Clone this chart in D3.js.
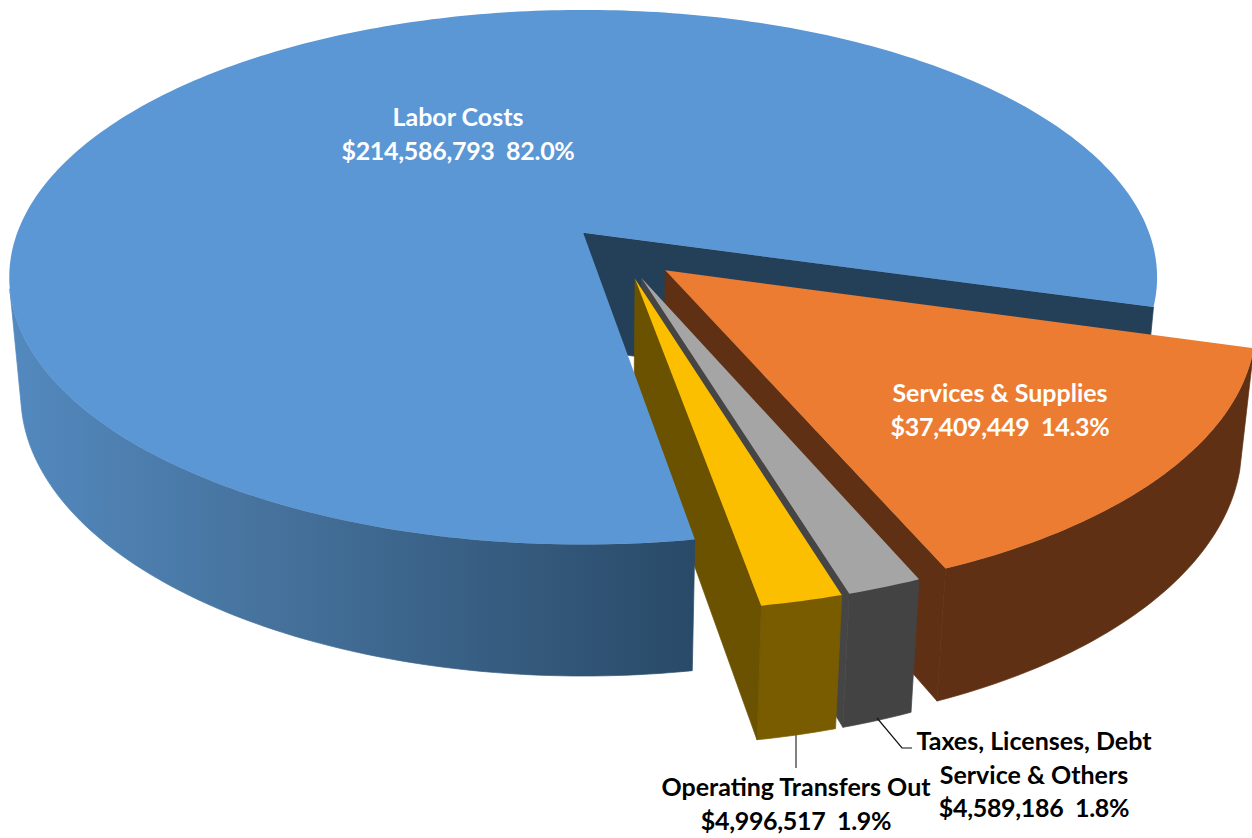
<!DOCTYPE html>
<html>
<head>
<meta charset="utf-8">
<script src="https://cdn.jsdelivr.net/npm/d3@7"></script>
<style>
  html, body { margin: 0; background: #fff; }
  svg { display: block; }
  text { font-family: Lato, "Open Sans", sans-serif; font-weight: 700; font-size: 25px; text-anchor: middle; }
</style>
</head>
<body>
<svg id="chart" width="1252" height="838"></svg>
<script>
let categories = ["Labor Costs", "Services & Supplies", "Taxes, Licenses, Debt Service & Others", "Operating Transfers Out"];
let values = [214586793, 37409449, 4589186, 4996517];
let topColors = ["#5b97d5", "#eb7c32", "#a5a5a5", "#fcbf00"];
let cutColors = ["#243f58", "#5f3013", "#454545", "#6b5200"];
let wallColors = ["url(#blueWall)", "#5f3013", "#434343", "#7a5c00"];
// label rows, one list per slice, the last row gets value + percent
let labelRows = [["Labor Costs"], ["Services & Supplies"], ["Taxes, Licenses, Debt", "Service & Others"], ["Operating Transfers Out"]];

const FIRST_SLICE = 170.5; // degrees, clockwise from 12 o'clock
const LEFT_EDGE = 258;     // where the blue wall leaves the silhouette
const EXPLODE = 0.1;       // share of the radius
const PIE_CENTRE = [0.067, 0.074];

// perspective camera, fitted on the picture
const cx = 583, cy = 233, fx = 566, gy = 260, hz = 118.5, ky = 0.166, mz = 0.02;
function project(x, y, z) {
  let w = 1 - ky * y + mz * z;
  return [cx + fx * x / w, cy + (gy * y + hz * z) / w];
}

let svg = d3.select("#chart");
let line = d3.line().curve(d3.curveLinearClosed);

let grad = svg.append("defs").append("linearGradient")
  .attr("id", "blueWall")
  .attr("gradientUnits", "userSpaceOnUse")
  .attr("x1", 10).attr("x2", 692).attr("y1", 0).attr("y2", 0);
grad.append("stop").attr("offset", "0%").attr("stop-color", "#5389bf");
grad.append("stop").attr("offset", "35%").attr("stop-color", "#47749f");
grad.append("stop").attr("offset", "100%").attr("stop-color", "#294a68");

let slices = d3.pie().sort(null)
  .startAngle(FIRST_SLICE * Math.PI / 180)
  .endAngle((FIRST_SLICE + 360) * Math.PI / 180)(values);

slices.forEach((s) => {
  let mid = (s.startAngle + s.endAngle) / 2;
  s.ox = PIE_CENTRE[0] + EXPLODE * Math.sin(mid);
  s.oy = PIE_CENTRE[1] - EXPLODE * Math.cos(mid);
});

function rim(s, a, z) {
  return project(s.ox + Math.sin(a), s.oy - Math.cos(a), z);
}
function arcPoints(s, a0, a1, z) {
  let n = Math.max(2, Math.ceil(Math.abs(a1 - a0) * 60));
  return d3.range(n + 1).map((i) => rim(s, a0 + (a1 - a0) * i / n, z));
}
// thin stroke in the fill colour hides the seams between faces
function drawPoly(points, fill, seam) {
  svg.append("path").attr("d", line(points)).attr("fill", fill)
    .attr("stroke", seam ? fill : "none").attr("stroke-width", 0.7);
}
function drawTop(s) {
  let apex = project(s.ox, s.oy, 0);
  drawPoly([apex].concat(arcPoints(s, s.startAngle, s.endAngle, 0)), topColors[s.index], false);
}
function drawOuter(s, a0, a1) {
  let top = arcPoints(s, a0, a1, 0);
  let bottom = arcPoints(s, a0, a1, 1).reverse();
  drawPoly(top.concat(bottom), wallColors[s.index], true);
}
// flat cut face from the apex out to the rim at angle a
function drawCut(s, a) {
  drawPoly([project(s.ox, s.oy, 0), rim(s, a, 0), rim(s, a, 1), project(s.ox, s.oy, 1)], cutColors[s.index], true);
}

let labor = slices[0];

// back to front
drawCut(labor, labor.endAngle);

[1, 2, 3].forEach((i) => {
  let s = slices[i];
  drawOuter(s, s.startAngle, s.endAngle);
  drawCut(s, s.endAngle);
  drawTop(s);
});

// labor goes over the small slices: its top hides the bottom of their cut faces
drawOuter(labor, labor.startAngle, LEFT_EDGE * Math.PI / 180);
drawTop(labor);

// leader lines
svg.append("path").attr("d", "M796,735V768").attr("stroke", "#595959").attr("stroke-width", 1.5).attr("fill", "none");
svg.append("path").attr("d", "M877,718L902,748H912").attr("stroke", "#111").attr("stroke-width", 1.2).attr("fill", "none");

let total = d3.sum(values);
let money = d3.format("$,");
let pct = d3.format(".1%");
let labelPos = [[458, 126, "#fff"], [1000, 402, "#fff"], [1034, 750, "#000"], [796, 796, "#000"]];

categories.forEach((c, i) => {
  let rows = labelRows[i].concat(money(values[i]) + "\u00a0\u00a0" + pct(values[i] / total));
  let t = svg.append("text").attr("fill", labelPos[i][2]);
  rows.forEach((r, j) => {
    t.append("tspan").attr("x", labelPos[i][0]).attr("y", labelPos[i][1] + j * 33.5)
      .attr("letter-spacing", j == rows.length - 1 ? -0.3 : 0)
      .text(r);
  });
});
</script>
</body>
</html>
